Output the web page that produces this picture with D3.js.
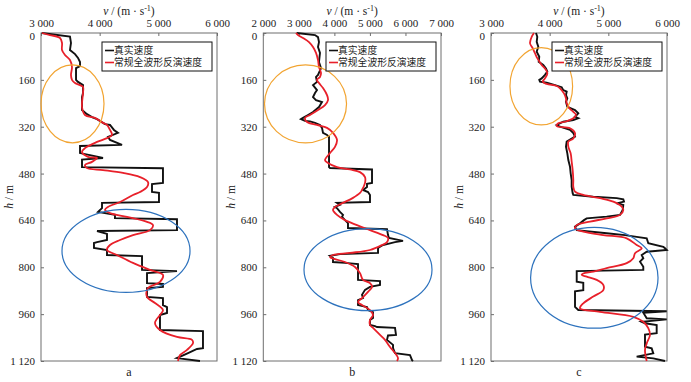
<!DOCTYPE html>
<html>
<head>
<meta charset="utf-8">
<script src="https://cdn.jsdelivr.net/npm/d3@7"></script>
<style>
  body { margin: 0; background: #fff; }
  svg text { font-family: "Liberation Serif", "Times New Roman", serif; fill: #222; }
  svg text.cn { font-family: "Liberation Serif", "Noto Sans CJK SC", serif; }
</style>
</head>
<body>
<svg id="chart" width="691" height="382"></svg>
<script>
// depth / velocity ticks
const depthTicks = [0, 160, 320, 480, 640, 800, 960, 1120];
const velTicksA = [3000, 4000, 5000, 6000];
const velTicksB = [2000, 3000, 4000, 5000, 6000, 7000];
const velTicksC = [3000, 4000, 5000, 6000];
const legendLabels = ["真实速度", "常规全波形反演速度"];
const panelLabels = ["a", "b", "c"];

// [h (m), v (m/s)] - true (blocky) velocity
const trueA = [[0,3012],[12,3494],[34,3511],[58,3494],[72,3580],[85,3631],[99,3665],[113,3665],[120,3597],[160,3597],[167,3631],[178,3716],[205,3716],[219,3699],[263,3699],[277,3784],[287,3869],[294,3955],[311,4091],[314,4176],[331,4244],[341,4312],[355,4142],[365,4176],[382,4381],[386,3665],[410,3665],[417,3835],[427,4057],[432,3699],[458,3699],[462,5079],[512,5079],[516,4892],[543,4892],[546,5011],[577,5011],[580,4040],[598,4040],[611,3972],[621,4261],[632,4261],[636,5318],[673,5318],[676,3955],[686,4125],[707,4125],[714,3955],[717,3903],[734,3903],[741,4125],[758,4125],[762,4722],[809,4722],[813,5318],[820,4807],[854,4807],[857,5079],[867,5079],[871,4807],[901,4807],[905,5079],[929,5079],[936,5148],[956,5148],[963,5028],[1014,5028],[1018,5761],[1076,5761],[1079,5659],[1093,5506],[1110,5318],[1120,5710]];
const trueB = [[0,2940],[7,3455],[14,3539],[31,3567],[48,3539],[68,3595],[99,3567],[120,3624],[143,3539],[150,3483],[167,3511],[178,3399],[195,3511],[205,3455],[219,3399],[229,3483],[236,3652],[253,3567],[270,3399],[280,3258],[290,3117],[294,3061],[300,3173],[302,3314],[307,3455],[314,3595],[324,3652],[341,3680],[348,3793],[355,3849],[458,3849],[461,3877],[466,5059],[512,5059],[515,4918],[526,4918],[536,4806],[543,4946],[553,5002],[577,5002],[580,4074],[587,4158],[594,4017],[598,4074],[611,4158],[621,4243],[628,4215],[639,4299],[649,4383],[666,4383],[670,5481],[690,5509],[700,5537],[710,5931],[714,5706],[724,5368],[734,5228],[751,5228],[755,4158],[761,3877],[768,3961],[782,3961],[785,4299],[789,4665],[843,4665],[847,5284],[860,5284],[867,5002],[877,4862],[894,4777],[905,4806],[912,4665],[929,4665],[936,4918],[946,4946],[953,5087],[973,5087],[980,5002],[997,5002],[1001,5143],[1004,5199],[1007,5706],[1031,5734],[1033,5509],[1048,5481],[1065,5650],[1076,5650],[1093,5706],[1100,6128],[1117,6185],[1120,6213]];
const trueC = [[0,3767],[13,3789],[30,3779],[47,3806],[64,3779],[81,3823],[98,3813],[109,3891],[121,3937],[132,3960],[143,3920],[155,3864],[160,3823],[166,3835],[170,3949],[178,4091],[185,4205],[195,4232],[200,4290],[212,4278],[223,4301],[235,4278],[252,4301],[263,4432],[274,4488],[286,4432],[291,4488],[297,4403],[303,4232],[314,4120],[320,4176],[331,4347],[342,4403],[354,4432],[371,4290],[388,4278],[411,4301],[434,4318],[457,4347],[479,4358],[502,4375],[525,4375],[547,4392],[553,4403],[559,4744],[564,5143],[568,5255],[576,5267],[582,5143],[587,5255],[604,5245],[621,5199],[627,4972],[633,4631],[639,4585],[650,4517],[661,4432],[673,4461],[684,4972],[690,5284],[696,5483],[701,5654],[718,5681],[730,5937],[735,5966],[741,5995],[747,5654],[758,5569],[769,5596],[781,5540],[798,5596],[809,5596],[813,4461],[849,4461],[853,4573],[878,4573],[882,4432],[935,4432],[946,4488],[950,5995],[955,5596],[974,5654],[978,5995],[986,5569],[991,5625],[997,5824],[1025,5824],[1030,5625],[1071,5625],[1077,5739],[1094,5766],[1105,5483],[1111,5766],[1120,5966]];

// [h (m), v (m/s)] - conventional FWI result
const invA = [[0,3017],[7,3153],[17,3324],[34,3358],[58,3358],[75,3409],[92,3494],[116,3528],[143,3511],[160,3528],[171,3580],[178,3665],[184,3716],[205,3716],[253,3699],[280,3750],[290,3920],[307,4057],[314,4125],[331,4176],[348,4210],[359,4125],[372,3955],[393,3750],[406,3699],[423,3801],[427,3955],[440,3869],[451,3750],[461,3784],[468,4057],[478,4398],[492,4687],[509,4824],[526,4807],[543,4687],[553,4568],[577,4347],[594,4142],[604,4091],[615,4176],[628,4466],[645,4807],[656,4909],[673,4858],[690,4568],[707,4347],[724,4176],[741,4125],[758,4295],[785,4568],[809,4858],[826,5079],[850,5028],[871,4824],[901,4807],[922,4943],[946,5079],[963,5028],[990,4943],[1014,5028],[1038,5318],[1048,5574],[1059,5591],[1082,5489],[1100,5369],[1120,5335]];
const invB = [[0,2920],[7,2976],[17,3117],[31,3286],[48,3399],[68,3483],[92,3539],[116,3567],[137,3624],[150,3595],[160,3511],[171,3567],[188,3680],[212,3793],[229,3821],[246,3736],[263,3539],[280,3314],[290,3173],[304,3230],[314,3511],[324,3793],[341,3961],[365,4074],[389,4017],[410,3877],[434,3736],[444,3821],[458,4074],[466,4440],[475,4721],[492,4862],[512,4862],[536,4777],[546,4721],[563,4524],[580,4243],[594,4017],[604,3961],[621,4074],[639,4299],[656,4637],[673,5002],[690,5368],[700,5509],[714,5481],[724,5340],[741,5002],[751,4440],[758,3961],[765,3877],[772,4017],[782,4299],[799,4580],[820,4721],[843,4806],[854,5002],[867,5059],[884,4946],[905,4777],[919,4665],[929,4777],[946,5002],[963,5087],[980,5002],[997,5002],[1007,5087],[1031,5284],[1048,5424],[1072,5565],[1093,5706],[1110,5791],[1120,5762]];
const invC = [[0,3733],[13,3694],[35,3665],[52,3711],[69,3750],[86,3789],[109,3864],[126,3937],[138,3960],[155,3920],[166,3881],[174,3949],[181,4120],[189,4176],[206,4244],[223,4278],[240,4290],[257,4335],[269,4403],[280,4449],[291,4403],[303,4261],[308,4147],[318,4120],[325,4347],[342,4432],[360,4403],[371,4318],[388,4318],[411,4358],[439,4375],[468,4392],[502,4403],[525,4403],[542,4432],[553,4573],[564,4858],[576,5085],[593,5228],[604,5255],[621,5199],[633,4972],[644,4688],[656,4461],[667,4432],[678,4573],[690,4914],[701,5313],[724,5483],[735,5569],[752,5455],[769,5426],[786,5313],[803,4972],[815,4744],[821,4573],[826,4546],[832,4631],[843,4802],[860,4914],[878,4914],[900,4744],[923,4573],[940,4517],[952,4858],[969,5426],[986,5596],[1008,5681],[1031,5710],[1060,5654],[1082,5625],[1120,5654]];

// highlighted zones: [centre v, centre h, radius v, radius h]
const orangeZones = [[3537,242,537,133],[3188,242,1154,133],[3857,182,534,132]];
const blueZones = [[4449,744,1091,142],[4946,808,1801,140],[4761,836,1086,172]];

const svg = d3.select("#chart");
const fmt = d => d3.format(",")(d).replace(/,/g, " ");

const panels = [
  { x0: 41,    x1: 217, dom: [3000, 6000], ticks: velTicksA, tru: trueA, inv: invA },
  { x0: 263.3, x1: 441, dom: [2000, 7000], ticks: velTicksB, tru: trueB, inv: invB },
  { x0: 491,   x1: 667, dom: [3000, 6000], ticks: velTicksC, tru: trueC, inv: invC }
];
const yTop = 33, yBot = 361;

panels.forEach((p, i) => {
  const x = d3.scaleLinear().domain(p.dom).range([p.x0, p.x1]);
  const y = d3.scaleLinear().domain([0, 1120]).range([yTop, yBot]);
  const g = svg.append("g");

  // frame
  g.append("rect").attr("x", p.x0).attr("y", yTop)
    .attr("width", p.x1 - p.x0).attr("height", yBot - yTop)
    .attr("fill", "none").attr("stroke", "#6e6e6e").attr("stroke-width", 1);

  // axes (ticks point inward)
  const top = g.append("g").attr("transform", `translate(0,${yTop})`)
    .call(d3.axisTop(x).tickValues(p.ticks).tickSize(-3).tickPadding(6.5).tickFormat(fmt));
  const left = g.append("g").attr("transform", `translate(${p.x0},0)`)
    .call(d3.axisLeft(y).tickValues(depthTicks).tickSize(-3).tickPadding(6).tickFormat(fmt));
  [top, left].forEach(a => {
    a.select(".domain").remove();
    a.attr("font-family", null).attr("font-size", null);
    a.selectAll("line").attr("stroke", "#6e6e6e");
    a.selectAll("text").style("font-size", "11px").attr("fill", "#222");
  });
  // the "0" depth label sits just under the first velocity label
  left.selectAll("text").filter(d => d === 0).attr("dy", "0.55em");

  // axis titles
  const xt = g.append("text").attr("x", (p.x0 + p.x1) / 2).attr("y", 15)
    .attr("text-anchor", "middle").style("font-size", "11.5px");
  xt.append("tspan").attr("font-style", "italic").text("v");
  xt.append("tspan").text(" / (m · s");
  xt.append("tspan").attr("dy", -4).style("font-size", "8px").text("-1");
  xt.append("tspan").attr("dy", 4).text(")");

  const yt = g.append("text")
    .attr("transform", `translate(${p.x0 - 28},${(yTop + yBot) / 2}) rotate(-90)`)
    .attr("text-anchor", "middle").style("font-size", "11.5px");
  yt.append("tspan").attr("font-style", "italic").text("h");
  yt.append("tspan").text(" / m");

  // curves
  const line = d3.line().x(d => x(d[1])).y(d => y(d[0]));
  g.append("path").datum(p.tru).attr("d", line)
    .attr("fill", "none").attr("stroke", "#111").attr("stroke-width", 1.9)
    .attr("stroke-linejoin", "miter");
  g.append("path").datum(p.inv).attr("d", line.curve(d3.curveCatmullRom.alpha(0.5)))
    .attr("fill", "none").attr("stroke", "#e8202a").attr("stroke-width", 1.8);

  // highlighted zones
  const oz = orangeZones[i], bz = blueZones[i];
  g.append("ellipse").attr("cx", x(oz[0])).attr("cy", y(oz[1]))
    .attr("rx", x(oz[0] + oz[2]) - x(oz[0])).attr("ry", y(oz[3]) - y(0))
    .attr("fill", "none").attr("stroke", "#f2a431").attr("stroke-width", 1.2);
  g.append("ellipse").attr("cx", x(bz[0])).attr("cy", y(bz[1]))
    .attr("rx", x(bz[0] + bz[2]) - x(bz[0])).attr("ry", y(bz[3]) - y(0))
    .attr("fill", "none").attr("stroke", "#2d72bd").attr("stroke-width", 1.2);

  // legend
  const lx = p.x1 - 115, ly = 42;
  const lg = g.append("g");
  lg.append("rect").attr("x", lx).attr("y", ly).attr("width", 110).attr("height", 29)
    .attr("fill", "#fff").attr("stroke", "#111").attr("stroke-width", 1);
  ["#111", "#e8202a"].forEach((c, k) => {
    const yy = ly + 8.5 + k * 12;
    lg.append("line").attr("x1", lx + 3).attr("x2", lx + 12).attr("y1", yy).attr("y2", yy)
      .attr("stroke", c).attr("stroke-width", 1.6);
    lg.append("text").attr("class", "cn").attr("x", lx + 12).attr("y", yy + 3.6)
      .style("font-size", "9.8px").text(legendLabels[k]);
  });

  // panel letter
  g.append("text").attr("x", (p.x0 + p.x1) / 2).attr("y", 376)
    .attr("text-anchor", "middle").style("font-size", "12px").text(panelLabels[i]);
});
</script>
</body>
</html>
